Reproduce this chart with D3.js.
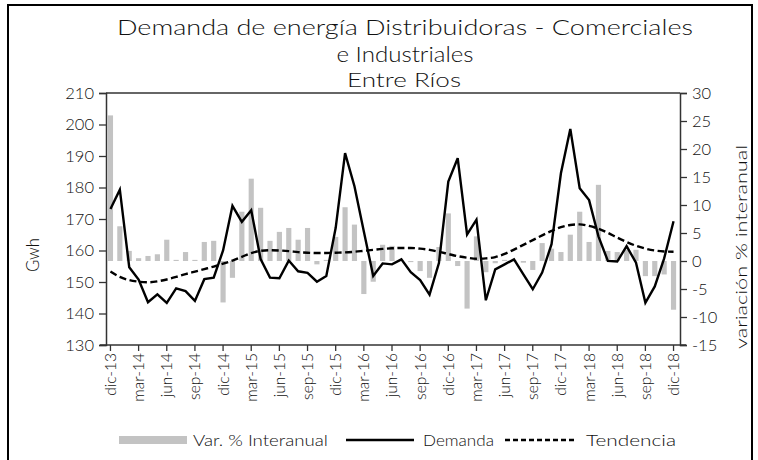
<!DOCTYPE html>
<html>
<head>
<meta charset="utf-8">
<script src="https://cdn.jsdelivr.net/npm/d3@7"></script>
<style>
  html, body { margin: 0; padding: 0; background: #fff; }
  svg { display: block; }
  text { font-family: Lato, "Open Sans", sans-serif; fill: #111; }
</style>
</head>
<body>
<svg id="chart" width="758" height="460"></svg>
<script>
const categories = [
  "dic-13","ene-14","feb-14","mar-14","abr-14","may-14","jun-14","jul-14","ago-14","sep-14","oct-14","nov-14",
  "dic-14","ene-15","feb-15","mar-15","abr-15","may-15","jun-15","jul-15","ago-15","sep-15","oct-15","nov-15",
  "dic-15","ene-16","feb-16","mar-16","abr-16","may-16","jun-16","jul-16","ago-16","sep-16","oct-16","nov-16",
  "dic-16","ene-17","feb-17","mar-17","abr-17","may-17","jun-17","jul-17","ago-17","sep-17","oct-17","nov-17",
  "dic-17","ene-18","feb-18","mar-18","abr-18","may-18","jun-18","jul-18","ago-18","sep-18","oct-18","nov-18",
  "dic-18"
];
const demanda = [
  173.2,179.3,154.7,150.8,143.6,146.1,143.4,148.0,147.1,144.0,150.9,151.4,
  160.0,174.2,169.1,172.8,157.3,151.4,151.2,156.8,153.4,152.9,150.1,151.9,
  167.2,190.9,180.4,166.0,151.9,155.9,155.6,157.2,153.1,150.6,146.0,156.0,
  181.9,189.3,165.1,169.8,144.2,154.0,155.6,157.2,152.4,147.7,153.0,162.0,
  184.5,198.6,179.8,176.0,164.5,156.7,156.5,161.4,156.1,143.4,148.6,157.5,
  169.3
];
const tendencia = [
  153.3,151.6,150.6,150.1,149.9,150.2,150.8,151.6,152.5,153.3,154.1,154.9,
  155.8,156.8,158.0,159.2,159.9,160.1,160.0,159.8,159.5,159.3,159.2,159.2,
  159.3,159.4,159.6,159.9,160.2,160.5,160.7,160.8,160.8,160.6,160.2,159.6,
  158.9,158.2,157.7,157.4,157.5,157.9,158.9,160.3,161.8,163.3,164.8,166.2,
  167.4,168.1,168.3,167.8,166.9,165.6,164.1,162.7,161.5,160.6,160.0,159.7,
  159.6
];
const variacion = [
  26.0,6.2,1.8,0.5,0.9,1.2,3.8,0.2,1.6,0.2,3.4,3.6,
  -7.4,-3.0,8.8,14.7,9.5,3.6,5.2,5.9,3.8,5.9,-0.6,0.2,
  4.3,9.6,6.5,-5.9,-3.7,2.9,2.7,0.1,-0.2,-1.8,-3.0,2.5,
  8.5,-0.9,-8.5,4.4,-2.0,-0.4,0.2,0.1,-0.3,-1.6,3.2,2.2,
  1.6,4.7,8.8,3.4,13.6,1.8,1.6,2.0,2.0,-2.7,-2.7,-2.4,
  -8.7
];
const tickLabels = ["dic-13","mar-14","jun-14","sep-14","dic-14","mar-15","jun-15","sep-15","dic-15","mar-16","jun-16","sep-16","dic-16","mar-17","jun-17","sep-17","dic-17","mar-18","jun-18","sep-18","dic-18"];
const leftTicks = [130,140,150,160,170,180,190,200,210];
const rightTicks = [-15,-10,-5,0,5,10,15,20,25,30];

const svg = d3.select("#chart");
const L = 106, R = 680, T = 93, B = 345;

// outer frame
svg.append("rect").attr("x", 8).attr("y", 5).attr("width", 744).attr("height", 480)
  .attr("fill", "none").attr("stroke", "#000").attr("stroke-width", 2);

const x = d3.scaleBand().domain(categories).range([L, 678]).paddingInner(0.45).paddingOuter(0.2);
const yL = d3.scaleLinear().domain([130, 210]).range([B, T]);
const yR = d3.scaleLinear().domain([-15, 30]).range([B, T]);
const cx = d => x(d) + x.bandwidth() / 2;

// bars
svg.append("g").selectAll("rect").data(categories).join("rect")
  .attr("x", (d) => x(d))
  .attr("width", x.bandwidth())
  .attr("y", (d, i) => Math.min(yR(variacion[i]), yR(0)))
  .attr("height", (d, i) => Math.abs(yR(variacion[i]) - yR(0)))
  .attr("fill", "#c3c3c3");

// trend
const lineT = d3.line().x((d, i) => cx(categories[i])).y(d => yL(d)).curve(d3.curveMonotoneX);
svg.append("path").datum(tendencia).attr("d", lineT)
  .attr("fill", "none").attr("stroke", "#000").attr("stroke-width", 2.4).attr("stroke-dasharray", "7,3.5");

// demand
const lineD = d3.line().x((d, i) => cx(categories[i])).y(d => yL(d));
svg.append("path").datum(demanda).attr("d", lineD)
  .attr("fill", "none").attr("stroke", "#000").attr("stroke-width", 2.4).attr("stroke-linejoin", "miter");

// top frame line
svg.append("line").attr("x1", L).attr("x2", R).attr("y1", T).attr("y2", T)
  .attr("stroke", "#333").attr("stroke-width", 1.5);

function styleAxis(g) {
  g.select(".domain").attr("stroke", "#333").attr("stroke-width", 1.5);
  g.selectAll(".tick line").attr("stroke", "#333").attr("stroke-width", 1.3);
  g.selectAll("text").style("font-family", "Lato, sans-serif").style("font-size", "16.5px")
    .style("font-weight", 300).attr("fill", "#111");
}

const gl = svg.append("g").attr("transform", `translate(${L},0)`)
  .call(d3.axisLeft(yL).tickValues(leftTicks).tickSize(7).tickPadding(5).tickFormat(d => String(d)));
styleAxis(gl);

const gr = svg.append("g").attr("transform", `translate(${R},0)`)
  .call(d3.axisRight(yR).tickValues(rightTicks).tickSize(7).tickPadding(5).tickFormat(d => String(d)));
styleAxis(gr);

const gx = svg.append("g").attr("transform", `translate(0,${B})`)
  .call(d3.axisBottom(x).tickValues(tickLabels).tickSize(6).tickSizeOuter(0));
styleAxis(gx);
gx.select(".domain").attr("d", `M${L - 6},0H${R + 6}`);
gx.selectAll("text")
  .attr("transform", "rotate(-90)")
  .attr("x", -8).attr("y", 0).attr("dy", "0.35em")
  .style("text-anchor", "end").style("font-size", "15.5px");

// axis titles
svg.append("text").attr("transform", "translate(39,255) rotate(-90)")
  .attr("text-anchor", "middle").style("font-size", "17px").style("font-weight", 300)
  .attr("textLength", 34).attr("lengthAdjust", "spacingAndGlyphs").text("Gwh");
svg.append("text").attr("transform", "translate(747,247) rotate(-90)")
  .attr("text-anchor", "middle").style("font-size", "16px").style("font-weight", 300)
  .attr("textLength", 204).attr("lengthAdjust", "spacingAndGlyphs").text("variación % interanual");

// titles
svg.append("text").attr("x", 405).attr("y", 35).attr("text-anchor", "middle")
  .style("font-size", "21px").style("font-weight", 300)
  .attr("textLength", 576).attr("lengthAdjust", "spacingAndGlyphs")
  .text("Demanda de energía Distribuidoras - Comerciales");
svg.append("text").attr("x", 405).attr("y", 61.5).attr("text-anchor", "middle")
  .style("font-size", "21px").style("font-weight", 300)
  .attr("textLength", 137).attr("lengthAdjust", "spacingAndGlyphs")
  .text("e Industriales");
svg.append("text").attr("x", 404).attr("y", 87).attr("text-anchor", "middle")
  .style("font-size", "19px").style("font-weight", 300).attr("fill", "#222")
  .attr("textLength", 114).attr("lengthAdjust", "spacingAndGlyphs")
  .text("Entre Ríos");

// legend
const lg = svg.append("g").attr("transform", "translate(0,440)");
lg.append("rect").attr("x", 119).attr("y", -4).attr("width", 68).attr("height", 8).attr("fill", "#c3c3c3");
lg.append("text").attr("x", 193).attr("y", 5.5).style("font-size", "15px").style("font-weight", 300)
  .attr("textLength", 135).attr("lengthAdjust", "spacingAndGlyphs").text("Var. % Interanual");
lg.append("line").attr("x1", 346).attr("x2", 414).attr("y1", 0).attr("y2", 0).attr("stroke", "#000").attr("stroke-width", 2.4);
lg.append("text").attr("x", 423).attr("y", 5.5).style("font-size", "15px").style("font-weight", 300)
  .attr("textLength", 71).attr("lengthAdjust", "spacingAndGlyphs").text("Demanda");
lg.append("line").attr("x1", 505).attr("x2", 577).attr("y1", 0).attr("y2", 0).attr("stroke", "#000").attr("stroke-width", 2.4).attr("stroke-dasharray", "5,3");
lg.append("text").attr("x", 586).attr("y", 5.5).style("font-size", "15px").style("font-weight", 300)
  .attr("textLength", 90).attr("lengthAdjust", "spacingAndGlyphs").text("Tendencia");
</script>
</body>
</html>
